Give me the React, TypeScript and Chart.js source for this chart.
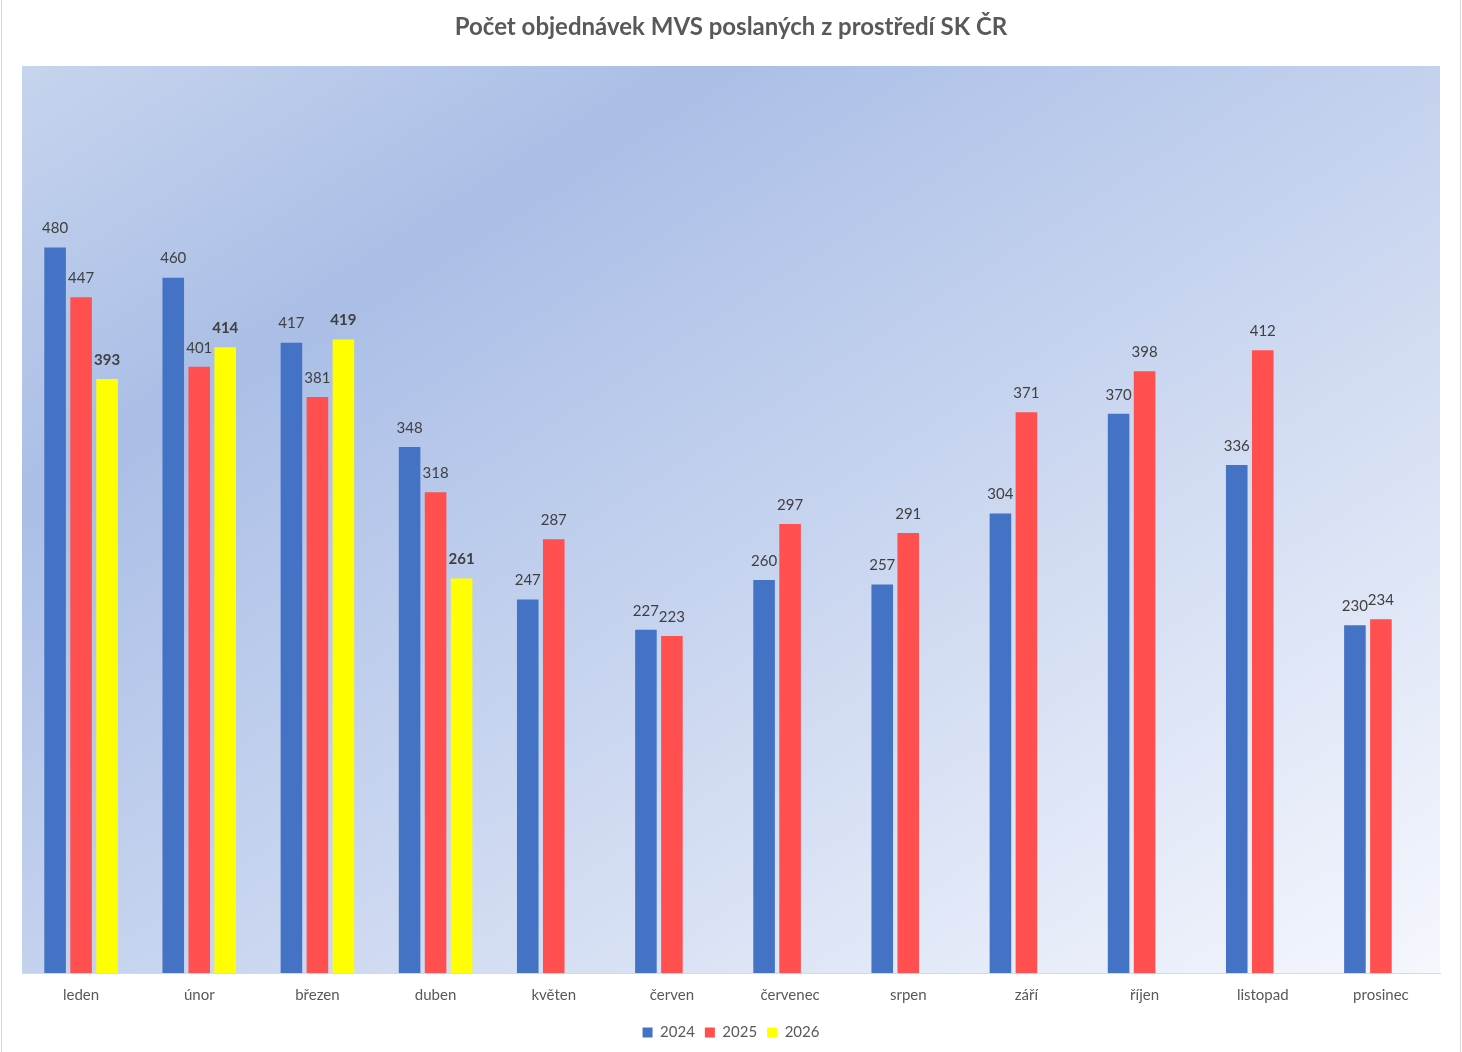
import { useEffect, useRef } from "react";
import { Chart, registerables } from "chart.js";

Chart.register(...registerables);

const months = [
  "leden", "únor", "březen", "duben", "květen", "červen",
  "červenec", "srpen", "září", "říjen", "listopad", "prosinec"
];
const orders2024 = [480, 460, 417, 348, 247, 227, 260, 257, 304, 370, 336, 230];
const orders2025 = [447, 401, 381, 318, 287, 223, 297, 291, 371, 398, 412, 234];
const orders2026 = [393, 414, 419, 261, null, null, null, null, null, null, null, null];

const FONT = "Lato, 'Open Sans', sans-serif";

// plot area fill, Excel-like diagonal gradient
const plotBackground = {
  id: "plotBackground",
  beforeDraw(chart: Chart) {
    const { ctx, chartArea, width, height } = chart;
    ctx.save();
    ctx.fillStyle = "#ffffff";
    ctx.fillRect(0, 0, width, height);
    const { left, top } = chartArea;
    const W = chartArea.right - left;
    const H = chartArea.bottom - top;
    const k = (2 * W * H) / (W * W + H * H);
    const g = ctx.createLinearGradient(left, top, left + k * H, top + k * W);
    g.addColorStop(0, "#c6d4ed");
    g.addColorStop(0.24, "#aabee6");
    g.addColorStop(1, "#f5f7fd");
    ctx.fillStyle = g;
    ctx.fillRect(left, top, W, H);
    ctx.restore();
  }
};

// value labels above the bars
const valueLabels = {
  id: "valueLabels",
  afterDatasetsDraw(chart: Chart) {
    const { ctx } = chart;
    ctx.save();
    ctx.textAlign = "center";
    ctx.textBaseline = "middle";
    ctx.fillStyle = "#404040";
    chart.data.datasets.forEach((ds, i) => {
      const meta = chart.getDatasetMeta(i);
      const bold = i === 2;
      ctx.font = `${bold ? "bold " : ""}15px ${FONT}`;
      meta.data.forEach((bar: any, j: number) => {
        const v = ds.data[j] as number | null;
        if (v == null) return;
        ctx.fillText(String(v), bar.x, bar.y - 19);
      });
    });
    ctx.restore();
  }
};

export default function App() {
  const canvasRef = useRef<HTMLCanvasElement>(null);

  useEffect(() => {
    const canvas = canvasRef.current;
    if (!canvas) return;
    Chart.getChart(canvas)?.destroy();

    const chart = new Chart(canvas, {
      type: "bar",
      data: {
        labels: months,
        datasets: [
          { label: "2024", data: orders2024, backgroundColor: "#4472c4", borderWidth: 0 },
          { label: "2025", data: orders2025, backgroundColor: "#ff4f4f", borderWidth: 0 },
          { label: "2026", data: orders2026, backgroundColor: "#ffff00", borderWidth: 0 }
        ]
      },
      options: {
        responsive: false,
        animation: false,
        layout: { padding: { left: 22, right: 22, top: 0, bottom: 2 } },
        datasets: {
          bar: { categoryPercentage: 0.66, barPercentage: 0.83 }
        },
        plugins: {
          title: {
            display: true,
            text: "Počet objednávek MVS poslaných z prostředí SK ČR",
            color: "#595959",
            font: { family: FONT, size: 24, weight: "bold" },
            padding: { top: 12.6, bottom: 24.6 }
          },
          legend: {
            position: "bottom",
            labels: {
              color: "#595959",
              font: { family: FONT, size: 15 },
              boxWidth: 10,
              boxHeight: 10,
              padding: 10
            }
          },
          tooltip: { enabled: false }
        },
        scales: {
          x: {
            grid: { display: false, drawTicks: false },
            border: { color: "#d9d9d9", width: 1 },
            ticks: {
              color: "#595959",
              font: { family: FONT, size: 15 },
              padding: 13
            },
            afterFit: (scale: any) => {
              scale.height = 42;
            }
          },
          y: { display: false, min: 0, max: 600 }
        }
      },
      plugins: [plotBackground, valueLabels]
    });

    return () => chart.destroy();
  }, []);

  return (
    <div style={{ position: "fixed", left: 0, top: 0, width: 1462, height: 1052 }}>
      <canvas ref={canvasRef} width={1462} height={1052} />
      <div style={{ position: "absolute", left: 1, top: 0, width: 1, height: 1052, background: "#d9d9d9" }} />
      <div style={{ position: "absolute", left: 1460, top: 0, width: 1, height: 1052, background: "#d9d9d9" }} />
    </div>
  );
}
